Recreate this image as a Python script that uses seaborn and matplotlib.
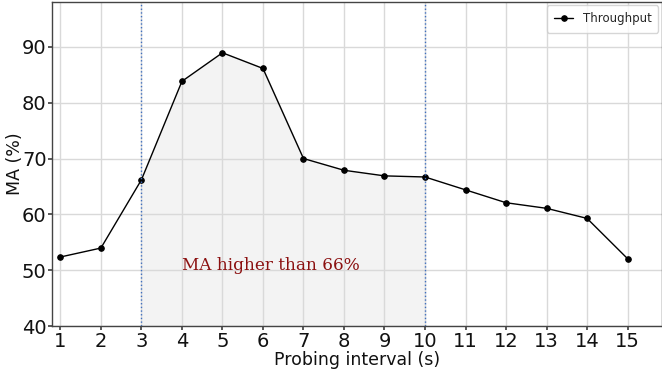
import matplotlib
matplotlib.use("Agg")
import matplotlib.pyplot as plt
import seaborn as sns
import numpy as np
import pandas as pd

intervals = [1, 2, 3, 4, 5, 6, 7, 8, 9, 10, 11, 12, 13, 14, 15]
ma_values = [52.4, 54.0, 66.2, 83.8, 88.9, 86.1, 70.0, 67.9, 66.9, 66.7, 64.4, 62.1, 61.1, 59.3, 52.1]
band_start, band_end = 3, 10
note_text = "MA higher than 66%"

df = pd.DataFrame({"interval": intervals, "ma": ma_values})

sns.set_theme(style="whitegrid")
plt.rcParams["font.family"] = ["DejaVu Sans"]

fig, ax = plt.subplots(figsize=(6.62, 3.73), dpi=100)
fig.subplots_adjust(left=0.079, right=1.0, top=0.995, bottom=0.125)

sns.lineplot(data=df, x="interval", y="ma", ax=ax, color="black", marker="o",
             markersize=4, linewidth=1.0, markeredgecolor="black", label="Throughput")

band = df[(df["interval"] >= band_start) & (df["interval"] <= band_end)]
ax.fill_between(band["interval"], 40, band["ma"], color="#f3f3f3", zorder=0)
ax.axvline(band_start, color="#3f6fc0", linestyle=":", linewidth=1.0)
ax.axvline(band_end, color="#3f6fc0", linestyle=":", linewidth=1.0)

ax.text(4.0, 50.0, note_text, family="DejaVu Serif", fontsize=12.2, color="#8b1010")

ax.set_xlim(0.8, 15.85)
ax.set_ylim(40, 98)
ax.set_xticks(intervals)
ax.set_yticks([40, 50, 60, 70, 80, 90])
ax.tick_params(axis="both", labelsize=14, labelcolor="#111111", pad=1, length=3,
               color="#444444", bottom=True, left=True)
ax.set_xlabel("Probing interval (s)", fontsize=12.5, labelpad=0, color="#111111")
ax.set_ylabel("MA (%)", fontsize=12.5, color="#111111")
ax.yaxis.set_label_coords(-0.047, 0.5)
ax.grid(True, color="#d9d9d9", linewidth=1.0)
for s in ax.spines.values():
    s.set_color("#444444")
    s.set_linewidth(1.0)

ax.legend(loc="upper right", fontsize=8.5, frameon=True, handlelength=1.6,
          borderpad=0.6, borderaxespad=0.3)

fig.savefig("out.png", dpi=100)
